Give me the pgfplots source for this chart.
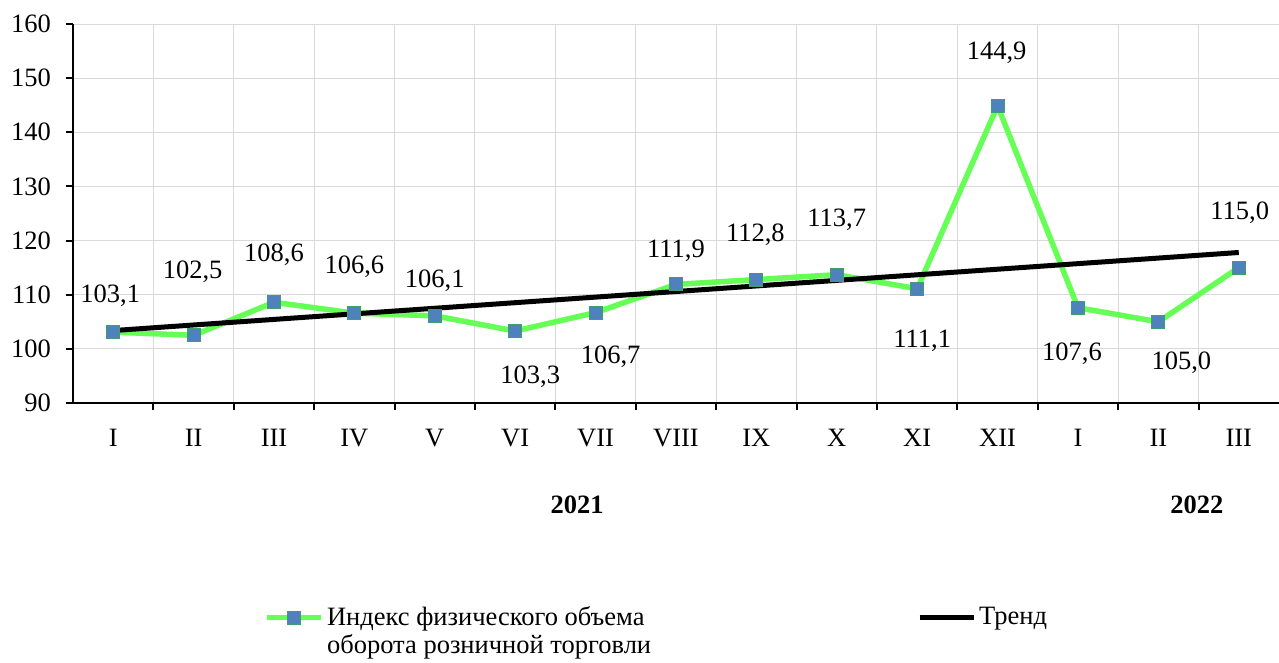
\documentclass[border=0pt]{standalone}
\usepackage{pgfplots}
\pgfplotsset{compat=1.18}
\usepackage{pgfplotstable}
\usepackage{fontspec}
\setmainfont{Liberation Serif}
\definecolor{lineGreen}{HTML}{66FF55}
\definecolor{markBlue}{HTML}{4F81BD}
\definecolor{markEdge}{HTML}{3E9E6E}
\definecolor{gridGray}{HTML}{D9D9D9}

% index values, label text, label offset (pt) from the point
\pgfplotstableread{
x  y     lab    dx  dy
1  103.1 103,1  -3  36
2  102.5 102,5  -1  64
3  108.6 108,6   0  48
4  106.6 106,6   0  46
5  106.1 106,1   0  35
6  103.3 103,3  15 -46
7  106.7 106,7  15 -44
8  111.9 111,9   0  34
9  112.8 112,8  -1  45
10 113.7 113,7   0  55
11 111.1 111,1   5 -52
12 144.9 144,9  -1  53
13 107.6 107,6  -6 -46
14 105.0 105,0  23 -41
15 115.0 115,0   1  55
}\indexdata

% linear trend end points
\pgfplotstableread{
x  y
1  103.38
15 117.80
}\trenddata

\begin{document}
\fontsize{26.5}{28}\selectfont
\begin{tikzpicture}
\useasboundingbox (-73pt,-259pt) rectangle (1206pt,403pt);
\begin{axis}[
    at={(0pt,0pt)}, anchor=south west,
    scale only axis, width=1206pt, height=379pt,
    xmin=0.5, xmax=15.5, ymin=90, ymax=160,
    ytick={90,100,...,160},
    xtick={1,...,15},
    xticklabels={I,II,III,IV,V,VI,VII,VIII,IX,X,XI,XII,I,II,III},
    minor x tick num=1,
    axis lines*=left,
    axis line style={line width=2pt},
    tick align=outside,
    tick style={black, line width=2pt},
    major tick length=7pt,
    minor tick length=7pt,
    major x tick style={draw=none},
    xminorgrids, ymajorgrids,
    grid style={gridGray, line width=1pt},
    minor grid style={gridGray, line width=1pt},
    /pgf/number format/assume math mode=true,
    yticklabel style={xshift=-6pt},
    xticklabel style={yshift=-10pt},
    legend columns=2,
    legend cell align=left,
    legend style={at={(0.1587,-0.53)}, anchor=north west, draw=none, fill=none,
        inner sep=0pt, nodes={align=left, inner xsep=3pt},
        /tikz/every even column/.append style={column sep=263pt}},
    legend image code/.code={\draw[mark repeat=2,mark phase=2,#1]
        plot coordinates {(0pt,14pt) (27pt,14pt) (54pt,14pt)};},
    clip=false,
]
\addplot[lineGreen, line width=5.5pt, mark=square*, mark size=6.5pt,
    mark options={fill=markBlue, draw=markEdge, line width=1pt, solid},
    nodes near coords, point meta=explicit symbolic,
    visualization depends on={\thisrow{dx} \as \dx},
    visualization depends on={\thisrow{dy} \as \dy},
    every node near coord/.append style={anchor=center, text=black,
        xshift=\dx pt, yshift=\dy pt, inner sep=0pt}]
    table[x=x, y=y, meta=lab] {\indexdata};
\addlegendentry{Индекс физического объема\\оборота розничной торговли}
\addplot[black, line width=5pt] table[x=x, y=y] {\trenddata};
\addlegendentry{Тренд\\\mbox{}}
\node[font=\bfseries] at (axis cs:6.77,90) [yshift=-102pt] {2021};
\node[font=\bfseries] at (axis cs:14.48,90) [yshift=-102pt] {2022};
\end{axis}
\end{tikzpicture}
\end{document}
